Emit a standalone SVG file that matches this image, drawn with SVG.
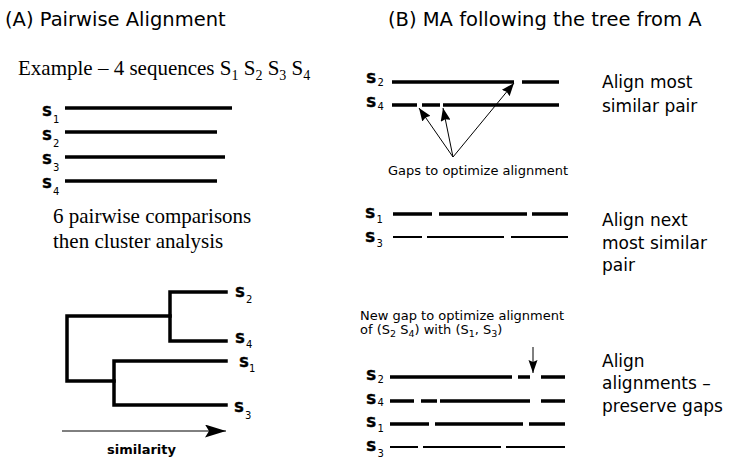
<svg xmlns="http://www.w3.org/2000/svg" width="738" height="474" viewBox="0 0 738 474">
<style>
.title{font-family:"DejaVu Sans",sans-serif;font-size:19.5px;fill:#000}
.rt{font-family:"DejaVu Sans",sans-serif;font-size:17px;fill:#000}
.note{font-family:"DejaVu Sans",sans-serif;font-size:13px;fill:#000}
.serif{font-family:"Liberation Serif",serif;font-size:21px;fill:#000}
.lab{font-family:"DejaVu Sans",sans-serif;font-weight:bold;font-size:14px;fill:#000;stroke:#000;stroke-width:0.4}
.labB{font-family:"DejaVu Sans",sans-serif;font-weight:bold;font-size:14.5px;fill:#000;stroke:#000;stroke-width:0.4}
.sub{font-family:"DejaVu Sans",sans-serif;font-weight:normal;font-size:10px;stroke:none}
.nsub{font-size:9.5px}
.seq{stroke:#000;stroke-width:3.5;fill:none}
.thin{stroke:#000;stroke-width:2.2;fill:none}
.tree{stroke:#000;stroke-width:3.5;fill:none;stroke-linejoin:miter;stroke-linecap:square}
.arr{stroke:#000;stroke-width:1;fill:none}
</style>
<defs>
<marker id="ah" markerUnits="userSpaceOnUse" markerWidth="14" markerHeight="10" refX="13" refY="5" orient="auto">
<path d="M0,0 L13,5 L0,10 L1.5,5 z" fill="#000"/>
</marker>
<marker id="ahDown" markerUnits="userSpaceOnUse" markerWidth="14" markerHeight="10" refX="13" refY="5" orient="auto">
<path d="M0,0.5 L13,5 L0,9.5 L2,5 z" fill="#000"/>
</marker>
<marker id="ahBig" markerUnits="userSpaceOnUse" markerWidth="22" markerHeight="13" refX="21" refY="6.5" orient="auto">
<path d="M0,0 L21,6.5 L0,13 L4,6.5 z" fill="#000"/>
</marker>
</defs>
<rect width="738" height="474" fill="#fff"/>

<g id="titleA"><text class="title" x="5" y="26">(A) Pairwise Alignment</text></g>
<g id="titleB"><text class="title" x="388" y="26">(B) MA following the tree from A</text></g>

<g id="example">
<text class="serif" x="18" y="75">Example – 4 sequences S<tspan font-size="14" dy="5">1</tspan><tspan dy="-5"> S</tspan><tspan font-size="14" dy="5">2</tspan><tspan dy="-5"> S</tspan><tspan font-size="14" dy="5">3</tspan><tspan dy="-5"> S</tspan><tspan font-size="14" dy="5">4</tspan></text>
</g>

<g id="seqsA">
<text class="lab" x="42" y="116">S<tspan class="sub" dx="1" dy="7">1</tspan></text>
<line class="seq" x1="65" y1="108" x2="232" y2="108"/>
<text class="lab" x="42" y="140">S<tspan class="sub" dx="1" dy="7">2</tspan></text>
<line class="seq" x1="65" y1="132" x2="217" y2="132"/>
<text class="lab" x="42" y="164">S<tspan class="sub" dx="1" dy="7">3</tspan></text>
<line class="seq" x1="65" y1="157" x2="225" y2="157"/>
<text class="lab" x="42" y="188">S<tspan class="sub" dx="1" dy="7">4</tspan></text>
<line class="seq" x1="65" y1="181" x2="217" y2="181"/>
</g>

<g id="pairwiseNote">
<text class="serif" x="53" y="223">6 pairwise comparisons</text>
<text class="serif" x="53" y="248">then cluster analysis</text>
</g>

<g id="tree">
<path class="tree" d="M226,292 H170 V341 H226"/>
<path class="tree" d="M170,316 H67 V381 H114"/>
<path class="tree" d="M226,361 H114 V405 H226"/>
<text class="lab" x="235" y="297">S<tspan class="sub" dx="1" dy="6">2</tspan></text>
<text class="lab" x="235" y="343">S<tspan class="sub" dx="1" dy="5">4</tspan></text>
<text class="lab" x="239" y="367">S<tspan class="sub" dx="0" dy="5">1</tspan></text>
<text class="lab" x="234" y="412">S<tspan class="sub" dx="1" dy="7">3</tspan></text>
<text class="note" x="107" y="454" font-weight="bold" font-size="11.5">similarity</text>
</g>

<g id="stepB1">
<text class="labB" x="366" y="83">S<tspan class="sub" dx="1" dy="3">2</tspan></text>
<path class="seq" d="M392,82 H514 M522,82 H559" stroke-width="3"/>
<text class="labB" x="366" y="107">S<tspan class="sub" dx="1" dy="3">4</tspan></text>
<path class="seq" d="M392,105 H417 M422,105 H440 M443,105 H559" stroke-width="3"/>
<text class="note" x="388" y="175">Gaps to optimize alignment</text>
<text class="rt" x="602" y="88">Align most</text>
<text class="rt" x="602" y="112">similar pair</text>
</g>

<g id="stepB2">
<text class="labB" x="365" y="218">S<tspan class="sub" dx="1" dy="5">1</tspan></text>
<path class="seq" d="M393,214 H432 M439,214 H527 M532,214 H568" stroke-width="3.3"/>
<text class="labB" x="365" y="242">S<tspan class="sub" dx="1" dy="5">3</tspan></text>
<path class="thin" d="M393,237 H422 M427,237 H504 M511,237 H568"/>
<text class="rt" x="602" y="226">Align next</text>
<text class="rt" x="602" y="249">most similar</text>
<text class="rt" x="602" y="271">pair</text>
</g>

<g id="newGapNote">
<text class="note" x="360" y="320">New gap to optimize alignment</text>
<text class="note" x="360" y="334">of (S<tspan class="nsub" dy="3">2</tspan><tspan dy="-3"> S</tspan><tspan class="nsub" dy="3">4</tspan><tspan dy="-3">) with (S</tspan><tspan class="nsub" dy="3">1</tspan><tspan dy="-3">, S</tspan><tspan class="nsub" dy="3">3</tspan><tspan dy="-3">)</tspan></text>
</g>

<g id="stepB3">
<text class="labB" x="366" y="380">S<tspan class="sub" dx="1" dy="3">2</tspan></text>
<path class="seq" d="M390,377 H512 M518,377 H530 M541,377 H565" stroke-width="3"/>
<text class="labB" x="366" y="404">S<tspan class="sub" dx="1" dy="2">4</tspan></text>
<path class="seq" d="M390,401 H414 M421,401 H437 M440,401 H530 M541,401 H565" stroke-width="3"/>
<text class="labB" x="366" y="427">S<tspan class="sub" dx="1" dy="5">1</tspan></text>
<path class="seq" d="M390,424 H429 M435,424 H523 M529,424 H565" stroke-width="3"/>
<text class="labB" x="366" y="451">S<tspan class="sub" dx="1" dy="6">3</tspan></text>
<path class="thin" d="M390,447 H418 M423,447 H501 M506,447 H565" stroke-width="2.5"/>
<text class="rt" x="602" y="367">Align</text>
<text class="rt" x="602" y="389">alignments –</text>
<text class="rt" x="602" y="412">preserve gaps</text>
</g>

<g id="connectors">
<line class="arr" x1="453" y1="157" x2="419" y2="108" marker-end="url(#ah)"/>
<line class="arr" x1="453" y1="157" x2="443" y2="108" marker-end="url(#ah)"/>
<line class="arr" x1="453" y1="157" x2="514" y2="83" marker-end="url(#ah)"/>
<line class="arr" x1="533" y1="347" x2="533" y2="373" stroke-width="1.3" marker-end="url(#ahDown)"/>
<line class="arr" x1="62" y1="431" x2="226" y2="431" stroke-width="1.3" marker-end="url(#ahBig)"/>
</g>
</svg>
